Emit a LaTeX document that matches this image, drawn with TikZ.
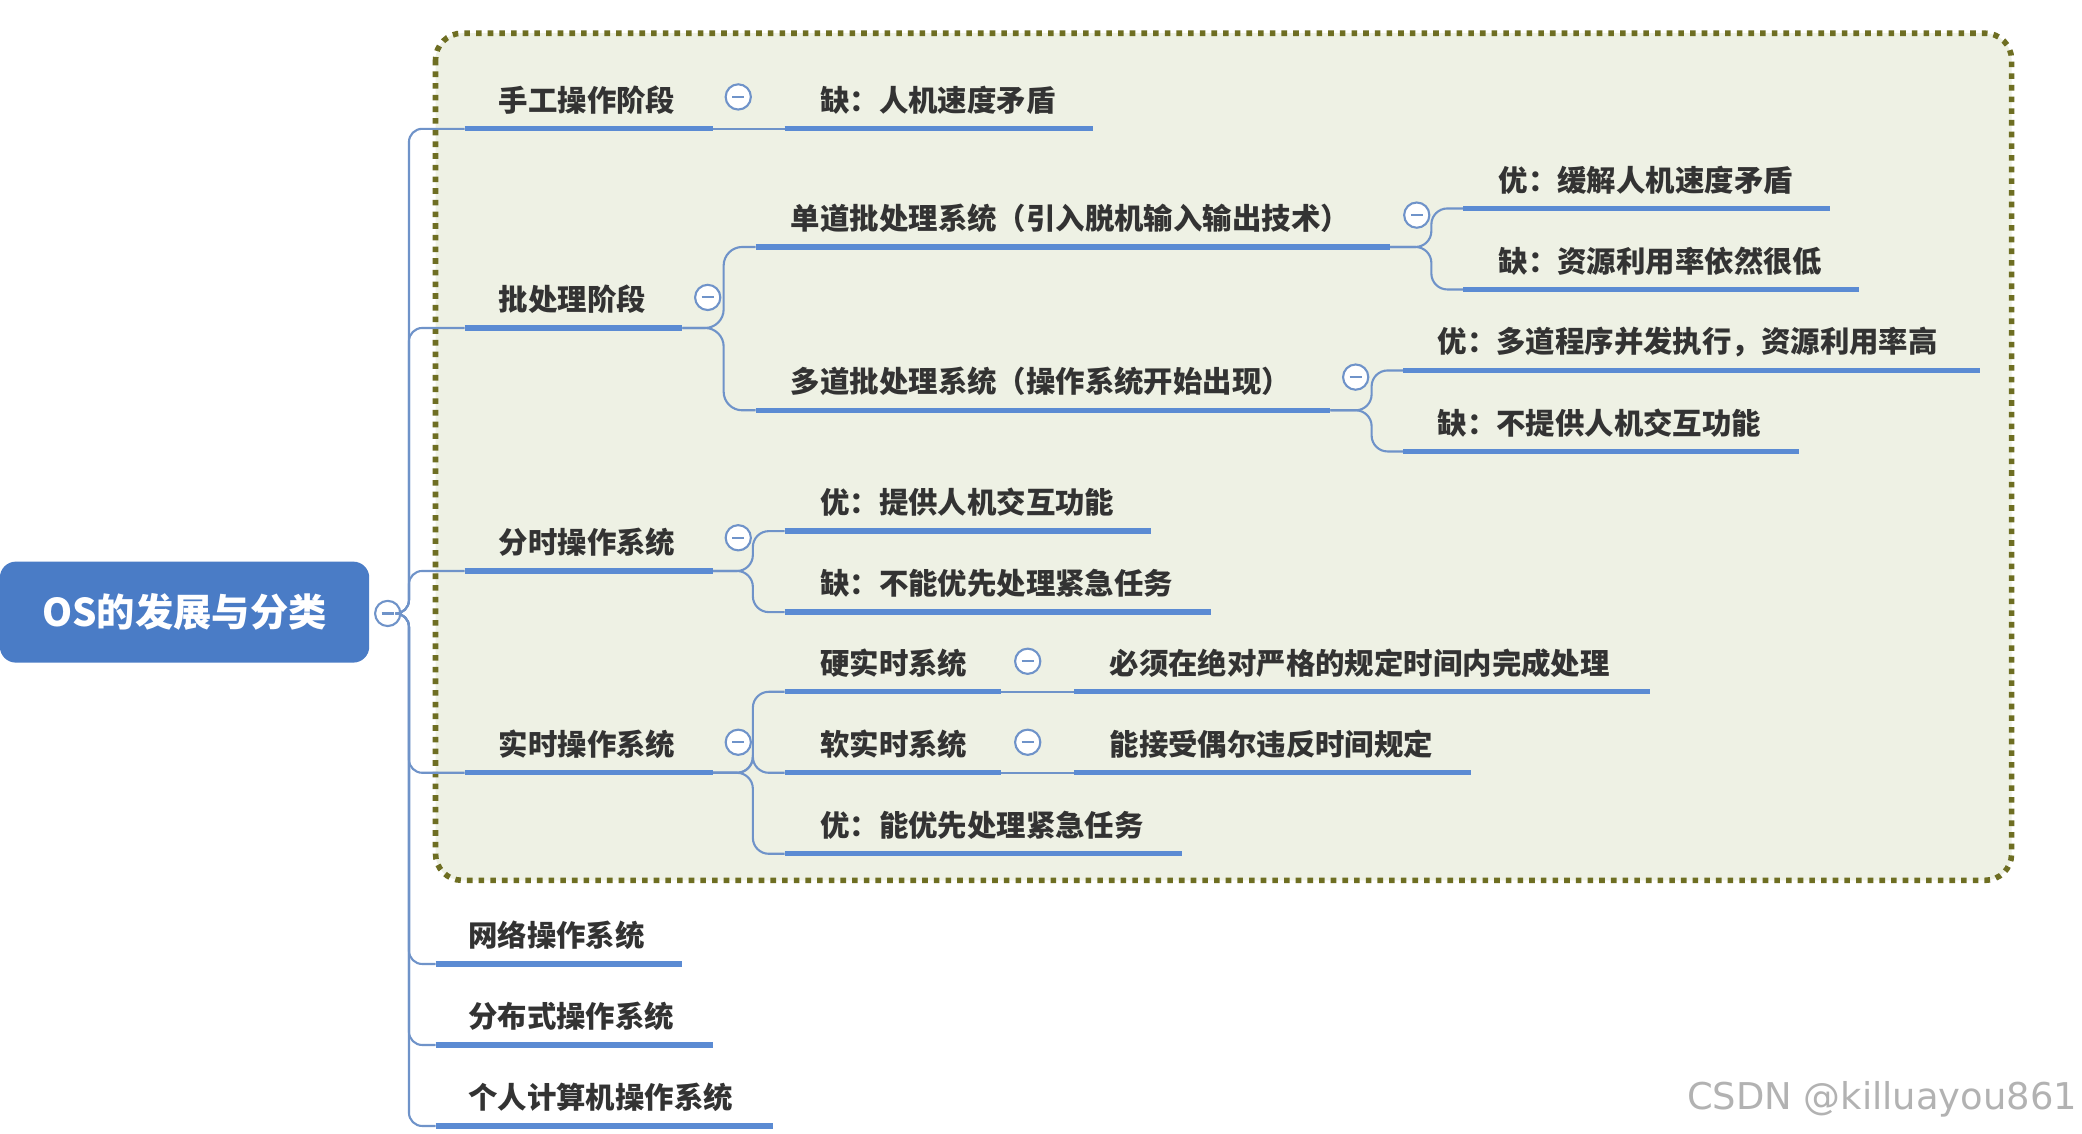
\documentclass[tikz,border=0pt]{standalone}
\usepackage{fontspec}
\newfontfamily\cjk{Noto Sans CJK SC}
\definecolor{ulc}{HTML}{5B8BD3}
\definecolor{cnc}{HTML}{6F93C9}
\definecolor{rootc}{HTML}{4A7CC6}
\definecolor{boxc}{HTML}{6E6E22}
\definecolor{boxf}{HTML}{EEF1E4}
\definecolor{txc}{HTML}{333333}
\begin{document}
\begin{tikzpicture}[x=0.01cm,y=-0.01cm,
 ul/.style={ulc,line width=1.15pt},
 cn/.style={cnc,line width=0.45pt},
 tx/.style={font=\cjk\bfseries\fontsize{6.3}{7}\selectfont,text=txc,inner sep=0pt},
 cir/.style={circle,draw=cnc,fill=white,line width=0.45pt,minimum size=0.19cm,inner sep=0pt}]
\useasboundingbox[fill=white] (0,0) rectangle (1568,854);
\newcommand\tp[6]{\coordinate (#1s) at (#2,#4); \coordinate (#1e) at (#3,#4);
 \node[tx,anchor=west] (#1) at (#5,#4-21.5) {#6};}
\newcommand\ulx[1]{\draw[ul] (#1s)--(#1e);}
\newcommand\cc[3]{\node[cir] (#1) at (#2,#3) {};
 \draw[cnc,line width=0.45pt] ([xshift=-0.045cm]#1.center)--([xshift=0.045cm]#1.center);}
\draw[boxc,line width=1.2pt,dash pattern=on 1.2pt off 1.3pt,fill=boxf,rounded corners=0.2cm] (328,25) rectangle (1515,663);
% root
\node[fill=rootc,rounded corners=0.12cm,minimum width=2.78cm,minimum height=0.76cm,
 font=\cjk\bfseries\fontsize{8.2}{9}\selectfont,text=white] (root) at (139,461) {OS的发展与分类};
% topics
\tp{a}{350}{537}{97}{375}{手工操作阶段}
\tp{a1}{591}{823}{97}{617}{缺：人机速度矛盾}
\tp{b}{350}{514}{247}{375}{批处理阶段}
\tp{b1}{569}{1047}{186}{595}{单道批处理系统（引入脱机输入输出技术）}
\tp{b11}{1102}{1378}{157}{1128}{优：缓解人机速度矛盾}
\tp{b12}{1102}{1400}{218}{1128}{缺：资源利用率依然很低}
\tp{b2}{569}{1002}{309}{595}{多道批处理系统（操作系统开始出现）}
\tp{b21}{1057}{1491}{279}{1082}{优：多道程序并发执行，资源利用率高}
\tp{b22}{1057}{1355}{340}{1082}{缺：不提供人机交互功能}
\tp{c}{350}{537}{430}{375}{分时操作系统}
\tp{c1}{591}{867}{400}{617}{优：提供人机交互功能}
\tp{c2}{591}{912}{461}{617}{缺：不能优先处理紧急任务}
\tp{d}{350}{537}{582}{375}{实时操作系统}
\tp{d1}{591}{754}{521}{617}{硬实时系统}
\tp{d11}{809}{1243}{521}{835}{必须在绝对严格的规定时间内完成处理}
\tp{d2}{591}{754}{582}{617}{软实时系统}
\tp{d21}{809}{1108}{582}{835}{能接受偶尔违反时间规定}
\tp{d3}{591}{890}{643}{617}{优：能优先处理紧急任务}
\tp{e}{328}{514}{726}{352}{网络操作系统}
\tp{f}{328}{537}{787}{352}{分布式操作系统}
\tp{g}{328}{582}{848}{352}{个人计算机操作系统}
% connectors
\coordinate (rj) at (308,462);
\cc{rc}{292}{462}
\foreach \n in {a,b,c,d,e,f,g} {\draw[cn,rounded corners=0.1cm] (rc.east) -- (rj) |- (\n s);}
\draw[cn] (ae) -- (a1s);
\draw[cn,rounded corners=0.14cm] (be) -- (545,247) |- (b1s);
\draw[cn,rounded corners=0.14cm] (be) -- (545,247) |- (b2s);
\draw[cn,rounded corners=0.12cm] (b1e) -- (1078,186) |- (b11s);
\draw[cn,rounded corners=0.12cm] (b1e) -- (1078,186) |- (b12s);
\draw[cn,rounded corners=0.12cm] (b2e) -- (1033,309) |- (b21s);
\draw[cn,rounded corners=0.12cm] (b2e) -- (1033,309) |- (b22s);
\draw[cn,rounded corners=0.12cm] (ce) -- (567,430) |- (c1s);
\draw[cn,rounded corners=0.12cm] (ce) -- (567,430) |- (c2s);
\draw[cn,rounded corners=0.12cm] (de) -- (567,582) |- (d1s);
\draw[cn,rounded corners=0.12cm] (de) -- (567,582) |- (d2s);
\draw[cn,rounded corners=0.12cm] (de) -- (567,582) |- (d3s);
\draw[cn] (d1e) -- (d11s);
\draw[cn] (d2e) -- (d21s);
\foreach \n in {a,a1,b,b1,b11,b12,b2,b21,b22,c,c1,c2,d,d1,d11,d2,d21,d3,e,f,g} {\ulx{\n}}
\cc{ac}{556}{73}
\cc{bc}{533}{224}
\cc{b1c}{1067}{162}
\cc{b2c}{1021}{284}
\cc{ccc}{556}{405}
\cc{dc}{556}{559}
\cc{d1c}{774}{498}
\cc{d2c}{774}{559}
\node[font=\fontspec{DejaVu Sans}\fontsize{7.9}{9}\selectfont,text=black!30,anchor=east,inner sep=0pt] (wm) at (1565,828) {CSDN @killuayou861};
\end{tikzpicture}
\end{document}
